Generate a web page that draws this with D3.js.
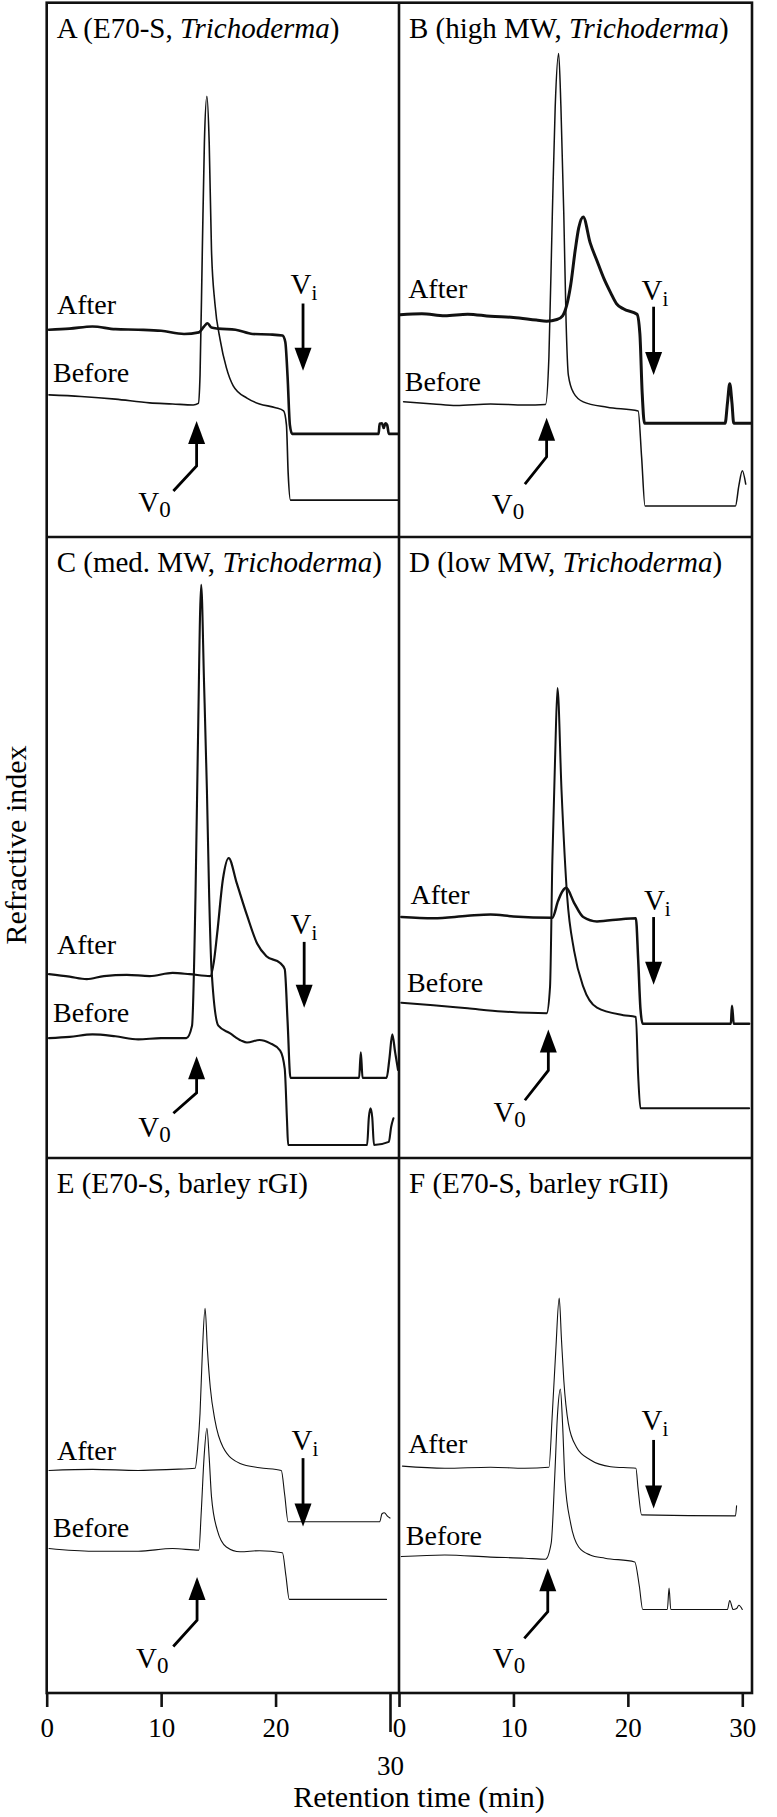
<!DOCTYPE html>
<html><head><meta charset="utf-8">
<script src="https://cdn.jsdelivr.net/npm/d3@7"></script>
<style>
body{margin:0;background:#fff}
svg{display:block}
text{font-family:"Liberation Serif","Times New Roman","DejaVu Serif",serif;fill:#000}
</style>
</head><body>
<svg id="chart" width="777" height="1817"></svg>
<script>
// ---------- DATA (retention time in min, refractive index in arbitrary units 0-100 per panel) ----------
const panelLetters = ["A","B","C","D","E","F"];
const panelTitles = [
  [["A (E70-S, ",false],["Trichoderma",true],[")",false]],
  [["B (high MW, ",false],["Trichoderma",true],[")",false]],
  [["C (med. MW, ",false],["Trichoderma",true],[")",false]],
  [["D (low MW, ",false],["Trichoderma",true],[")",false]],
  [["E (E70-S, barley rGI)",false]],
  [["F (E70-S, barley rGII)",false]]
];
const seriesNames = ["After","Before"];
const xTickValues = [0,10,20,30];

const afterA = [[0.2,38.8],[2,39.0],[4,39.4],[6,38.9],[8,38.8],[10,38.6],[12,38.0],[13.3,38.3],[13.75,39.4],[14.05,40.0],[14.4,39.2],[15,39.0],[16.5,38.8],[18,38.0],[19.5,37.9],[20.6,37.7],[20.85,36.5],[21.05,30],[21.25,21],[21.45,19.3],[25,19.3],[29.0,19.3],[29.1,21.2],[29.3,21.3],[29.45,20.4],[29.6,21.3],[29.75,21.0],[29.9,19.3],[30.8,19.3]];
const beforeA = [[0.2,26.6],[3,26.3],[6,25.8],[9,25.1],[11,24.9],[12.8,24.7],[13.25,25.0],[13.4,30.3],[13.6,53.7],[13.78,73.8],[14.0,82.5],[14.2,73.8],[14.4,53.7],[14.7,43.7],[15.15,37.0],[15.7,31.7],[16.3,28.3],[17.5,26.0],[18.6,24.9],[20.0,24.2],[20.7,23.6],[20.95,21],[21.1,12],[21.3,6.9],[30.8,6.9]];

const afterB = [[0.1,41.6],[2,41.8],[4,41.4],[6,41.7],[8,41.3],[10,41.1],[12,40.6],[12.9,40.4],[13.8,40.7],[14.3,41.4],[15.0,47.1],[15.4,53.7],[15.7,57.8],[16.1,59.9],[16.7,55.1],[17.3,51.7],[17.9,48.4],[18.5,45.7],[19.0,43.7],[19.6,42.7],[20.8,41.7],[21.05,38],[21.25,27],[21.45,21.3],[28.5,21.3],[28.7,25],[28.9,28.7],[29.1,25],[29.25,21.3],[30.8,21.3]];
const beforeB = [[0.4,25.3],[3,24.9],[5,24.6],[8,24.9],[11,24.7],[12.8,24.8],[13.1,33.7],[13.4,60.5],[13.65,80.5],[13.95,90.5],[14.15,80.5],[14.4,60.5],[14.6,40.4],[14.8,30.3],[15.25,27.0],[16.1,25.3],[18.2,24.3],[20.9,23.6],[21.2,15],[21.5,5.8],[29.4,5.8],[29.7,9.6],[30.0,12.4],[30.3,9.9]];

const afterC = [[0.2,29.6],[2,29.2],[3.5,28.8],[5,29.3],[7,29.5],[9,29.3],[11,29.8],[12.5,29.6],[14.3,29.3],[14.6,31.5],[14.9,36.2],[15.4,44.9],[15.9,48.3],[16.6,44.3],[17.5,39.1],[18.4,34.5],[19.2,32.5],[20.4,31.4],[20.8,30.4],[21.05,22],[21.3,12.9],[27.3,12.9],[27.45,17.0],[27.6,12.9],[29.7,12.9],[29.95,16],[30.2,19.9],[30.45,17],[30.7,14.2]];
const beforeC = [[0.2,19.3],[2,19.5],[4,19.9],[6,19.6],[8,19.1],[10,19.3],[12.2,19.3],[12.7,21.3],[13.0,42.0],[13.2,65.0],[13.5,92.3],[13.75,76.5],[14.0,59.3],[14.2,42.0],[14.4,30.5],[15.0,21.3],[16.0,20.1],[17.0,18.9],[17.5,18.6],[18.6,19.0],[19.5,18.5],[20.4,17.3],[20.8,14.4],[21.0,6],[21.1,2.1],[28.0,2.1],[28.15,6.5],[28.3,8.0],[28.45,6.5],[28.6,2.1],[29.9,2.6],[30.1,5],[30.3,6.4]];

const afterD = [[0.2,38.8],[3,38.6],[6,39.0],[8,39.2],[10,38.9],[13.4,38.7],[13.9,41.4],[14.3,43.0],[14.6,43.5],[15.3,41.1],[16.1,38.8],[17.3,38.1],[19.6,38.5],[20.7,38.6],[20.9,32],[21.1,24],[21.3,21.6],[29.0,21.6],[29.1,24.5],[29.25,21.6],[30.6,21.6]];
const beforeD = [[0.2,25.0],[3,24.6],[6,24.1],[9,23.6],[12.9,23.3],[13.2,27.6],[13.4,47.8],[13.65,65.0],[13.85,75.7],[14.2,59.3],[14.7,42.0],[15.3,33.4],[16.1,27.6],[17.3,24.2],[19.6,23.0],[20.7,22.7],[20.9,13.3],[21.1,8.0],[30.6,8.0]];

const afterE = [[0.2,41.6],[4,41.8],[8,41.6],[11,41.8],[12.97,42.0],[13.2,46.0],[13.4,52.3],[13.6,63.5],[13.84,71.9],[14.05,64],[14.3,57],[14.7,51.0],[15.4,46.0],[16.9,42.9],[18.6,42.1],[20.5,41.6],[20.8,37],[21.1,32.0],[29.1,32.0],[29.3,33.5],[29.5,33.7],[29.8,33.0],[30.0,32.7]];
const beforeE = [[0.2,27.0],[4,26.5],[8,26.5],[11,27.0],[13.3,26.7],[13.5,33.6],[13.75,44],[14.0,49.5],[14.2,44],[14.4,36.7],[14.9,30.5],[15.7,27.3],[16.9,26.4],[18.6,26.6],[20.6,26.2],[20.9,22],[21.2,17.5],[29.7,17.5]];

const afterF = [[0.3,42.4],[4,42.0],[8,42.2],[11,42.0],[13.1,42.2],[13.4,52.3],[13.7,64],[14.0,73.8],[14.2,66],[14.4,58.5],[14.8,50.4],[15.5,46.0],[16.7,43.6],[18.5,42.3],[20.7,42.0],[20.9,38],[21.2,33.3],[29.4,33.1],[29.5,35.0]];
const beforeF = [[0.2,25.5],[4,25.8],[8,25.4],[11,25.2],[12.8,25.0],[13.3,28],[13.6,40],[13.85,52],[14.1,56.8],[14.3,50],[14.5,39.8],[15.0,31.7],[15.7,27.3],[16.7,25.8],[18.0,25.2],[20.6,24.5],[21.0,20],[21.3,15.6],[23.45,15.6],[23.6,19.6],[23.75,15.6],[28.7,15.6],[28.9,17.3],[29.2,15.6],[29.5,15.8],[29.7,16.4],[30.0,15.6]];

const afterSeries = [afterA, afterB, afterC, afterD, afterE, afterF];
const beforeSeries = [beforeA, beforeB, beforeC, beforeD, beforeE, beforeF];

// ---------- LAYOUT (annotation anchors in data units, styles) ----------
const annotations = [
  {after:[0.9,41.8], before:[0.55,29.0], viText:[21.3,45.4], vi:[22.4,43.7,31.1], v0Text:[8.0,4.6], v0:[[11.07,8.6],[13.1,13.3],[13.1,21.7]]},
  {after:[0.8,44.8], before:[0.5,27.3], viText:[21.2,44.4], vi:[22.25,43.1,30.3], v0Text:[8.1,4.3], v0:[[11.0,9.9],[12.9,15.0],[12.9,22.3]]},
  {after:[0.9,32.8], before:[0.55,21.9], viText:[21.3,36.0], vi:[22.5,34.8,24.2], v0Text:[8.0,3.4], v0:[[11.07,7.2],[13.1,10.5],[13.1,16.4]]},
  {after:[1.0,40.9], before:[0.7,26.8], viText:[21.4,40.0], vi:[22.25,38.8,27.9], v0Text:[8.25,5.8], v0:[[11.0,9.3],[13.05,14.1],[13.05,20.7]]},
  {after:[0.9,43.6], before:[0.55,29.2], viText:[21.4,45.4], vi:[22.4,43.9,31.1], v0Text:[7.8,4.6], v0:[[11.06,8.7],[13.14,13.6],[13.14,21.7]]},
  {after:[0.8,44.9], before:[0.6,27.7], viText:[21.2,49.2], vi:[22.25,47.3,34.5], v0Text:[8.2,4.6], v0:[[10.95,10.2],[13.0,15.2],[13.0,23.3]]}
];
const lineWidths = [[2.6,1.6],[3.0,1.5],[2.2,2.1],[2.5,2.0],[1.1,1.1],[1.1,1.1]];

const frame = {left:46.7, mid:399, right:752, top:2.7, row1:537, row2:1158, bottom:1693};
const rowsY = [[frame.top,frame.row1],[frame.row1,frame.row2],[frame.row2,frame.bottom]];
const xLeft = d3.scaleLinear().domain([0,30]).range([46.7,390]);
const xRight = d3.scaleLinear().domain([0,30]).range([399,742.3]);

const svg = d3.select("#chart");
const defs = svg.append("defs");

panelLetters.forEach((id,i)=>{
  const col = i%2, row = Math.floor(i/2);
  const x = col ? xRight : xLeft;
  const [top,bottom] = rowsY[row];
  const y = d3.scaleLinear().domain([0,100]).range([bottom, top]);
  const pl = col ? frame.mid : frame.left, pr = col ? frame.right : frame.mid;
  defs.append("clipPath").attr("id","clip"+id).append("rect")
    .attr("x",pl+1).attr("y",top+1).attr("width",pr-pl-2).attr("height",bottom-top-2);
  const g = svg.append("g").attr("class","panel");

  // title
  const t = g.append("text").attr("x",pl+10).attr("y",top+35).attr("font-size",29);
  panelTitles[i].forEach(([s,it])=>t.append("tspan").text(s).attr("font-style",it?"italic":"normal"));

  const line = d3.line().x(d=>x(d[0])).y(d=>y(d[1])).curve(d3.curveMonotoneX);
  const lg = g.append("g").attr("clip-path","url(#clip"+id+")");
  [afterSeries[i], beforeSeries[i]].forEach((s,k)=>{
    lg.append("path").datum(s).attr("d",line).attr("fill","none")
      .attr("stroke","#111").attr("stroke-width",lineWidths[i][k])
      .attr("stroke-linejoin","round").attr("stroke-linecap","round");
  });

  const a = annotations[i];
  g.append("text").attr("x",x(a.after[0])).attr("y",y(a.after[1])).attr("font-size",28).text(seriesNames[0]);
  g.append("text").attr("x",x(a.before[0])).attr("y",y(a.before[1])).attr("font-size",28).text(seriesNames[1]);

  // Vi label + arrow
  const vt = g.append("text").attr("x",x(a.viText[0])).attr("y",y(a.viText[1])).attr("font-size",29);
  vt.append("tspan").text("V");
  vt.append("tspan").text("i").attr("font-size",21).attr("dy",6);
  const ax = x(a.vi[0]), ay1 = y(a.vi[1]), ay2 = y(a.vi[2]);
  g.append("line").attr("x1",ax).attr("x2",ax).attr("y1",ay1).attr("y2",ay2-18)
    .attr("stroke","#000").attr("stroke-width",2.8);
  g.append("path").attr("d",`M${ax-8.5},${ay2-23}L${ax+8.5},${ay2-23}L${ax},${ay2}Z`).attr("fill","#000");

  // V0 label + arrow
  const v0t = g.append("text").attr("x",x(a.v0Text[0])).attr("y",y(a.v0Text[1])).attr("font-size",29);
  v0t.append("tspan").text("V");
  v0t.append("tspan").text("0").attr("font-size",23).attr("dy",5);
  const p = a.v0.map(d=>[x(d[0]),y(d[1])]);
  const tip = p[2];
  g.append("path").attr("d",`M${p[0][0]},${p[0][1]}L${p[1][0]},${p[1][1]}L${tip[0]},${tip[1]+18}`)
    .attr("fill","none").attr("stroke","#000").attr("stroke-width",2.8).attr("stroke-linejoin","miter");
  g.append("path").attr("d",`M${tip[0]-8.5},${tip[1]+23}L${tip[0]+8.5},${tip[1]+23}L${tip[0]},${tip[1]}Z`).attr("fill","#000");
});

// frame & dividers
const fg = svg.append("g").attr("stroke","#111").attr("stroke-width",2.6).attr("fill","none");
fg.append("rect").attr("x",frame.left).attr("y",frame.top).attr("width",frame.right-frame.left).attr("height",frame.bottom-frame.top);
fg.append("line").attr("x1",frame.mid).attr("x2",frame.mid).attr("y1",frame.top).attr("y2",frame.bottom);
[frame.row1,frame.row2].forEach(yy=>fg.append("line").attr("x1",frame.left).attr("x2",frame.right).attr("y1",yy).attr("y2",yy));

// axes
function drawAxis(scale, isLeft){
  const g = svg.append("g").attr("transform",`translate(0,${frame.bottom})`)
    .call(d3.axisBottom(scale).tickValues(xTickValues).tickSize(14).tickSizeOuter(0).tickFormat(d3.format("d")));
  g.select(".domain").remove();
  g.selectAll(".tick line").attr("stroke","#111").attr("stroke-width",2.6);
  g.selectAll(".tick text").attr("dy",null).attr("y",44).attr("font-size",27)
    .attr("font-family",'"Liberation Serif","Times New Roman",serif').attr("fill","#000");
  if(isLeft){
    g.selectAll(".tick").filter(d=>d===30).select("line").attr("y2",39);
    g.selectAll(".tick").filter(d=>d===30).select("text").attr("y",82);
  }
}
drawAxis(xLeft,true);
drawAxis(xRight,false);

svg.append("text").attr("x",419).attr("y",1807).attr("text-anchor","middle").attr("font-size",30).text("Retention time (min)");
svg.append("text").attr("transform","translate(26,845) rotate(-90)").attr("text-anchor","middle").attr("font-size",30).text("Refractive index");
</script>
</body></html>
